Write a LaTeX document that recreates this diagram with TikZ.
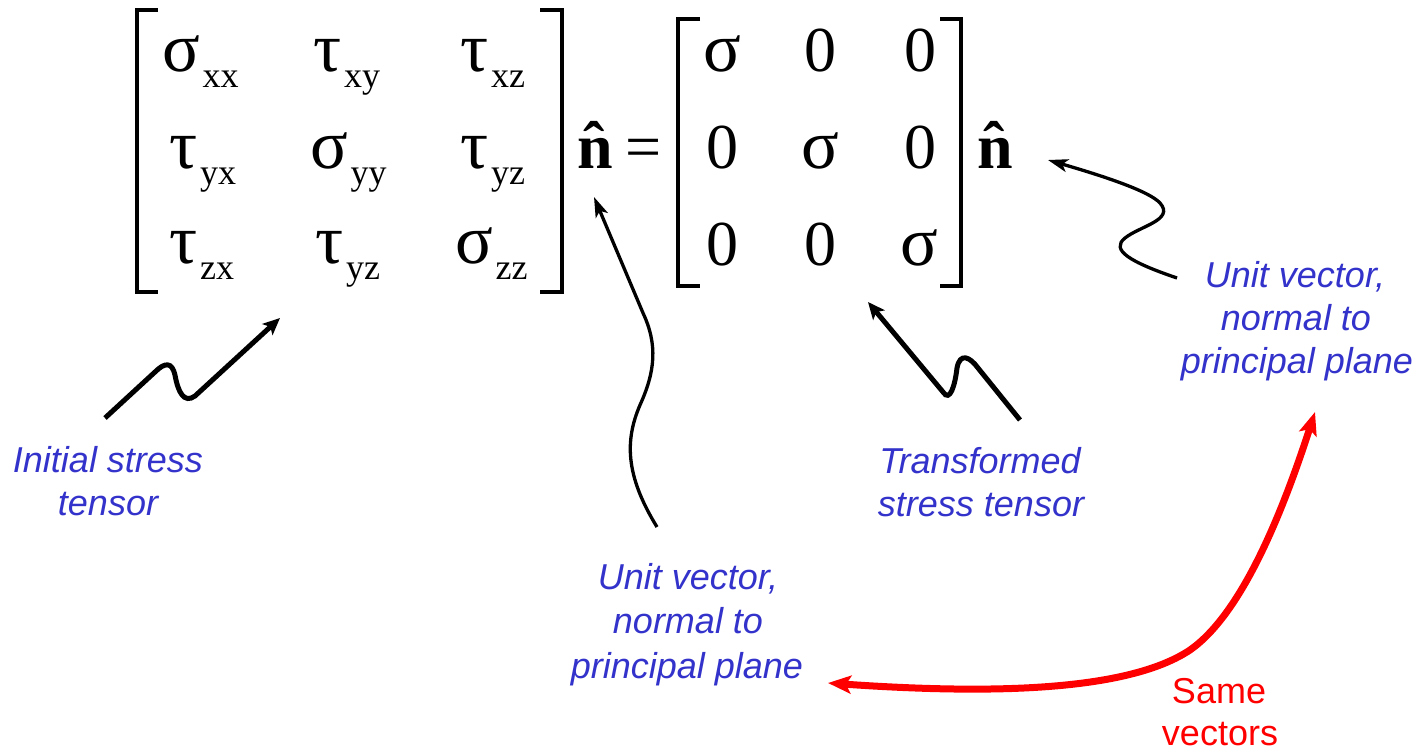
\documentclass[tikz,border=0pt]{standalone}
\usepackage{fontspec}
\setmainfont{Liberation Serif}
\newfontfamily\lsans{Liberation Sans}
\usetikzlibrary{arrows.meta}
\definecolor{lblblue}{RGB}{51,51,204}
\definecolor{samered}{RGB}{255,0,0}
\newcommand\grk[1]{{\fontsize{70}{70}\selectfont #1}}
\newcommand\mtxent[2]{\grk{#1}\hspace{3pt}\raisebox{-16pt}{\fontsize{36}{36}\selectfont #2}}
\begin{document}
\begin{tikzpicture}[x=1pt,y=-1pt,
  every node/.style={inner sep=0pt, outer sep=0pt},
  ent/.style={anchor=base west, font=\fontsize{64}{64}\selectfont},
  bent/.style={anchor=base west, font=\bfseries\fontsize{64}{64}\selectfont},
  hatnode/.style={anchor=base, font=\bfseries\fontsize{64}{64}\selectfont},
  lbl/.style={anchor=base, text=lblblue, font=\lsans\itshape\fontsize{36}{36}\selectfont},
  redlbl/.style={anchor=base, text=samered, font=\lsans\fontsize{36}{36}\selectfont},
  brk/.style={line width=3.5pt, line cap=butt, line join=miter},
  thin arrow/.style={line width=3.3pt, -{Stealth[length=20pt,width=13pt,inset=5pt]}},
  thick arrow/.style={line width=5pt, -{Stealth[length=17pt,width=15pt,inset=4pt]}},
  red arrow/.style={line width=7pt, draw=samered, {Stealth[length=23pt,width=18pt,inset=5pt]}-{Stealth[length=23pt,width=18pt,inset=5pt]}}
]
\path[use as bounding box, fill=white] (0,0) rectangle (1424,752);

% left matrix brackets
\draw[brk] (158,10) -- (137,10) -- (137,292) -- (158,292);
\draw[brk] (540,10) -- (562,10) -- (562,292) -- (540,292);
% left matrix entries
\node[ent] (s11) at (162,72) {\mtxent{σ}{xx}};
\node[ent] (s12) at (313,72) {\mtxent{τ}{xy}};
\node[ent] (s13) at (460,72) {\mtxent{τ}{xz}};
\node[ent] (s21) at (169,168) {\mtxent{τ}{yx}};
\node[ent] (s22) at (310,168) {\mtxent{σ}{yy}};
\node[ent] (s23) at (460,168) {\mtxent{τ}{yz}};
\node[ent] (s31) at (169,263) {\mtxent{τ}{zx}};
\node[ent] (s32) at (315,263) {\mtxent{τ}{yz}};
\node[ent] (s33) at (455,263) {\mtxent{σ}{zz}};

% first n-hat and equals
\node[bent] (n1) at (577,168) {n};
\node[hatnode] (h1) at (594,166) {ˆ};
\node[ent] (eq) at (625,168) {=};

% right matrix brackets
\draw[brk] (700,19) -- (678,19) -- (678,286) -- (700,286);
\draw[brk] (940,19) -- (961,19) -- (961,286) -- (940,286);
% right matrix entries
\node[ent] (t11) at (703,72) {\grk{σ}};
\node[ent] (t12) at (804,72) {0};
\node[ent] (t13) at (904,72) {0};
\node[ent] (t21) at (706,168) {0};
\node[ent] (t22) at (801,168) {\grk{σ}};
\node[ent] (t23) at (904,168) {0};
\node[ent] (t31) at (706,265) {0};
\node[ent] (t32) at (804,265) {0};
\node[ent] (t33) at (900,265) {\grk{σ}};

% second n-hat
\node[bent] (n2) at (977,168) {n};
\node[hatnode] (h2) at (994,166) {ˆ};

% labels
\node[lbl] (la1) at (108,472) {Initial stress};
\node[lbl] (la2) at (108,515) {tensor};
\node[lbl] (lb1) at (980,473) {Transformed};
\node[lbl] (lb2) at (981,516) {stress tensor};
\node[lbl] (lc1) at (688,589) {Unit vector,};
\node[lbl] (lc2) at (688,633) {normal to};
\node[lbl] (lc3) at (687,678) {principal plane};
\node[lbl] (ld1) at (1295,287) {Unit vector,};
\node[lbl] (ld2) at (1296,330) {normal to};
\node[lbl] (ld3) at (1297,373) {principal plane};
\node[redlbl] (le1) at (1219,703) {Same};
\node[redlbl] (le2) at (1220,745) {vectors};

% connector end points
\coordinate (a1) at (105,418); \coordinate (a2) at (280,318);
\coordinate (b1) at (657,527); \coordinate (b2) at (594,197);
\coordinate (c1) at (1020,420); \coordinate (c2) at (868,302);
\coordinate (d1) at (1177,278); \coordinate (d2) at (1048,160);
\coordinate (r1) at (828,683); \coordinate (r2) at (1315,412);

% connectors
\draw[thick arrow] (a1) -- (155,372) .. controls (165,362) and (172,362) .. (175,375)
  .. controls (178,392) and (184,404) .. (195,396) -- (a2);
\draw[thin arrow] (b1) .. controls (625,475) and (625,440) .. (640,405)
  .. controls (655,372) and (658,345) .. (643,313) -- (b2);
\draw[thick arrow] (c1) -- (978,368) .. controls (970,357) and (960,352) .. (957,368)
  .. controls (955,385) and (950,403) .. (943,392) -- (c2);
\draw[thin arrow] (d1) .. controls (1130,262) and (1110,250) .. (1125,238)
  .. controls (1140,226) and (1175,220) .. (1160,203)
  .. controls (1150,192) and (1110,178) .. (d2);
\draw[red arrow] (r1) .. controls (1000,695) and (1130,690) .. (1190,650)
  .. controls (1240,615) and (1280,520) .. (r2);
\end{tikzpicture}
\end{document}
